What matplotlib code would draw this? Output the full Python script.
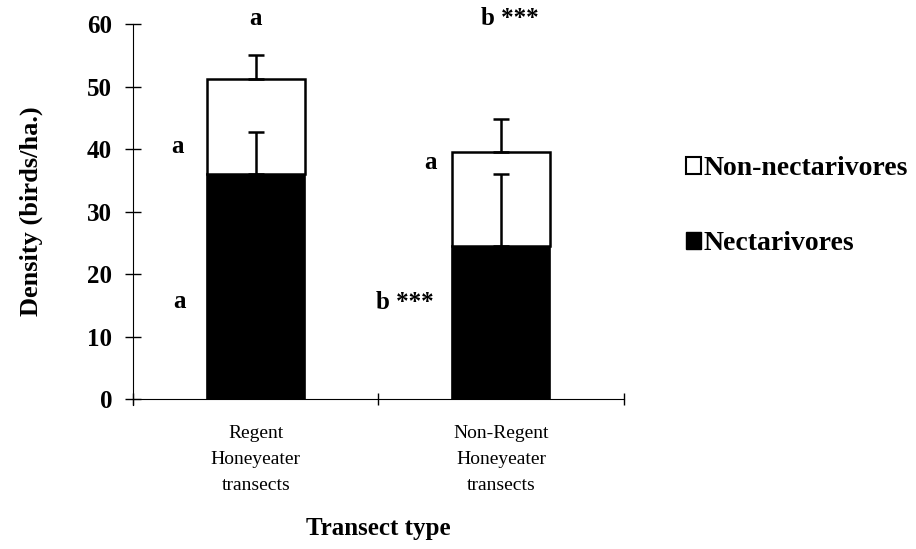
import matplotlib.pyplot as plt
from matplotlib.patches import Patch
import numpy as np

# transect types and mean densities (birds/ha)
categories = ["Regent\nHoneyeater\ntransects", "Non-Regent\nHoneyeater\ntransects"]
nectarivores = [36.1, 24.5]
non_nectarivores = [15.1, 15.1]
nect_err = [6.7, 11.5]
total_err = [3.9, 5.2]
yticks = [0, 10, 20, 30, 40, 50, 60]

plt.rcParams['font.family'] = ['Liberation Serif', 'DejaVu Serif']

fig = plt.figure(figsize=(9.16, 5.49), dpi=100)
ax = fig.add_axes([0.1452, 0.2732, 0.5358, 0.6825])

x = np.arange(len(categories))
totals = np.array(nectarivores) + np.array(non_nectarivores)

ax.bar(x, nectarivores, width=0.4, color="black", edgecolor="black", linewidth=1.2)
ax.bar(x, non_nectarivores, width=0.4, bottom=nectarivores, color="white",
       edgecolor="black", linewidth=1.8)
ax.errorbar(x, nectarivores, yerr=[np.zeros(2), nect_err], fmt="none",
            ecolor="black", elinewidth=1.8, capsize=6, capthick=1.8)
ax.errorbar(x, totals, yerr=[np.zeros(2), total_err], fmt="none",
            ecolor="black", elinewidth=1.8, capsize=6, capthick=1.8)

ax.spines["top"].set_visible(False)
ax.spines["right"].set_visible(False)
ax.spines["left"].set_bounds(-1, 60)

ax.set_xlim(-0.5, 1.5)
ax.set_ylim(0, 60)
ax.set_yticks(yticks, [str(v) for v in yticks], fontsize=18, fontweight="bold")
ax.tick_params(axis="y", direction="inout", length=12, width=1, pad=9)
ax.set_xticks(x, categories, fontsize=14, linespacing=1.67)
ax.tick_params(axis="x", which="major", length=0, pad=19)
ax.set_xticks([-0.5, 0.5, 1.5], minor=True)
ax.tick_params(axis="x", which="minor", direction="inout", length=8, width=1)

ax.set_ylabel("Density (birds/ha.)", fontsize=19, fontweight="bold", labelpad=32)
ax.set_xlabel("Transect type", fontsize=18, fontweight="bold", labelpad=17)

# significance letters
kw = dict(fontsize=18, fontweight="bold", ha="center", va="center", clip_on=False)
ax.text(0.0, 61.0, "a", **kw)
ax.text(1.035, 61.0, "b ***", **kw)
ax.text(-0.317, 40.5, "a", **kw)
ax.text(-0.31, 15.6, "a", **kw)
ax.text(0.714, 37.8, "a", **kw)
ax.text(0.608, 15.4, "b ***", **kw)

handles = [Patch(facecolor="white", edgecolor="black", linewidth=1.5),
           Patch(facecolor="black", edgecolor="black")]
fig.legend(handles, ["Non-nectarivores", "Nectarivores"], loc="center left",
           bbox_to_anchor=(0.722, 0.624), frameon=False,
           prop=dict(size=20, weight="bold"), handlelength=0.52,
           handleheight=0.52, handletextpad=0.1, labelspacing=1.8)

fig.savefig("out.png", dpi=100)
